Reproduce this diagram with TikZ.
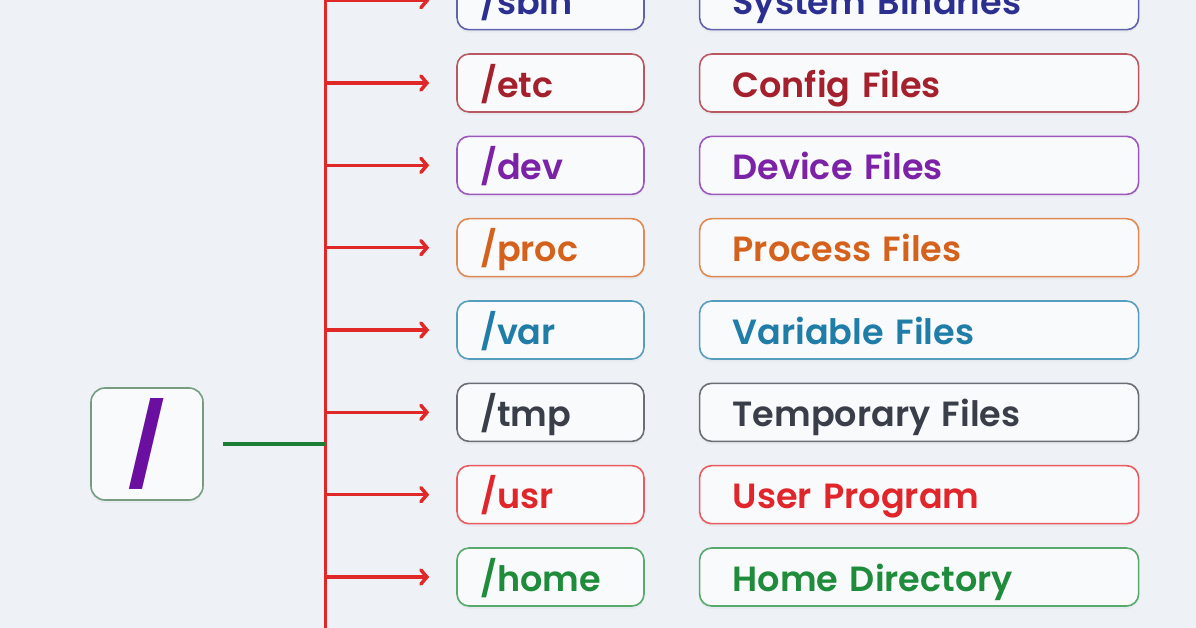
\documentclass[tikz,border=0pt]{standalone}
\usepackage{fontspec}
\setmainfont{Poppins}[BoldFont={Poppins SemiBold}]
\newfontfamily\rootfont{Poppins}
\usetikzlibrary{arrows.meta,positioning,shadows}
\definecolor{bgc}{HTML}{EEF1F6}
\definecolor{boxfill}{HTML}{F9FAFC}
\definecolor{cSbin}{HTML}{2B2F8F}
\definecolor{cEtc}{HTML}{A3202C}
\definecolor{cDev}{HTML}{7B22A6}
\definecolor{cProc}{HTML}{D4621C}
\definecolor{cVar}{HTML}{1F7DA8}
\definecolor{cTmp}{HTML}{393E48}
\definecolor{cUsr}{HTML}{E0262A}
\definecolor{cHome}{HTML}{1F8C3B}
\definecolor{cRoot}{HTML}{6A0FA0}
\definecolor{cTrunk}{HTML}{E02828}
\tikzstyle{dirbox} = [rectangle, rounded corners=12pt, minimum width=187pt, minimum height=58pt, inner xsep=23pt, inner ysep=0pt, text width=141pt, text height=31pt, text depth=3pt, align=left, line width=1.6pt, fill=boxfill, font=\bfseries\fontsize{35}{35}\selectfont, drop shadow={opacity=0.06, shadow xshift=0pt, shadow yshift=-3pt}]
\tikzstyle{descbox} = [dirbox, minimum width=439pt, inner xsep=33pt, text width=373pt]
\tikzstyle{rootbox} = [rectangle, rounded corners=14pt, minimum size=112pt, line width=1.6pt, draw=cHome!45!gray!80, fill=boxfill, text=cRoot, font=\rootfont\bfseries\fontsize{80}{80}\selectfont, drop shadow={opacity=0.06, shadow xshift=0pt, shadow yshift=-3pt}]
\tikzstyle{arrow} = [line width=3.5pt, cTrunk, -{Straight Barb[length=6pt,width=14pt,line cap=round]}]

\begin{document}
\begin{tikzpicture}[x=1pt,y=-1pt]
\fill[bgc] (0,0) rectangle (1196,628);
\useasboundingbox (0,0) rectangle (1196,628);
\node (root) [rootbox] at (147,444) {/};
\coordinate (trTop) at (325,-5);
\coordinate (trBot) at (325,633);
\draw [line width=3pt, cTrunk] (trTop) -- (trBot);
\draw [line width=4pt, cHome!90!black] ([xshift=19pt]root.east) -- (root.east -| trTop);

% one row per directory
\foreach \dir/\desc/\col [count=\i] in {sbin/System Binaries/cSbin, etc/Config Files/cEtc, dev/Device Files/cDev, proc/Process Files/cProc, var/Variable Files/cVar, tmp/Temporary Files/cTmp, usr/User Program/cUsr, home/Home Directory/cHome}{
  \node (dir\i) [dirbox, draw=\col!75, text=\col] at (550.5,{0.7+82.33*(\i-1)}) {/\dir};
  \node (desc\i) [descbox, right=54pt of dir\i, draw=\col!75, text=\col] {\desc};
  \coordinate (br\i) at (dir\i.west -| trTop);
  \draw [arrow] (br\i) -- ([xshift=-27pt]dir\i.west);
}
\end{tikzpicture}
\end{document}
